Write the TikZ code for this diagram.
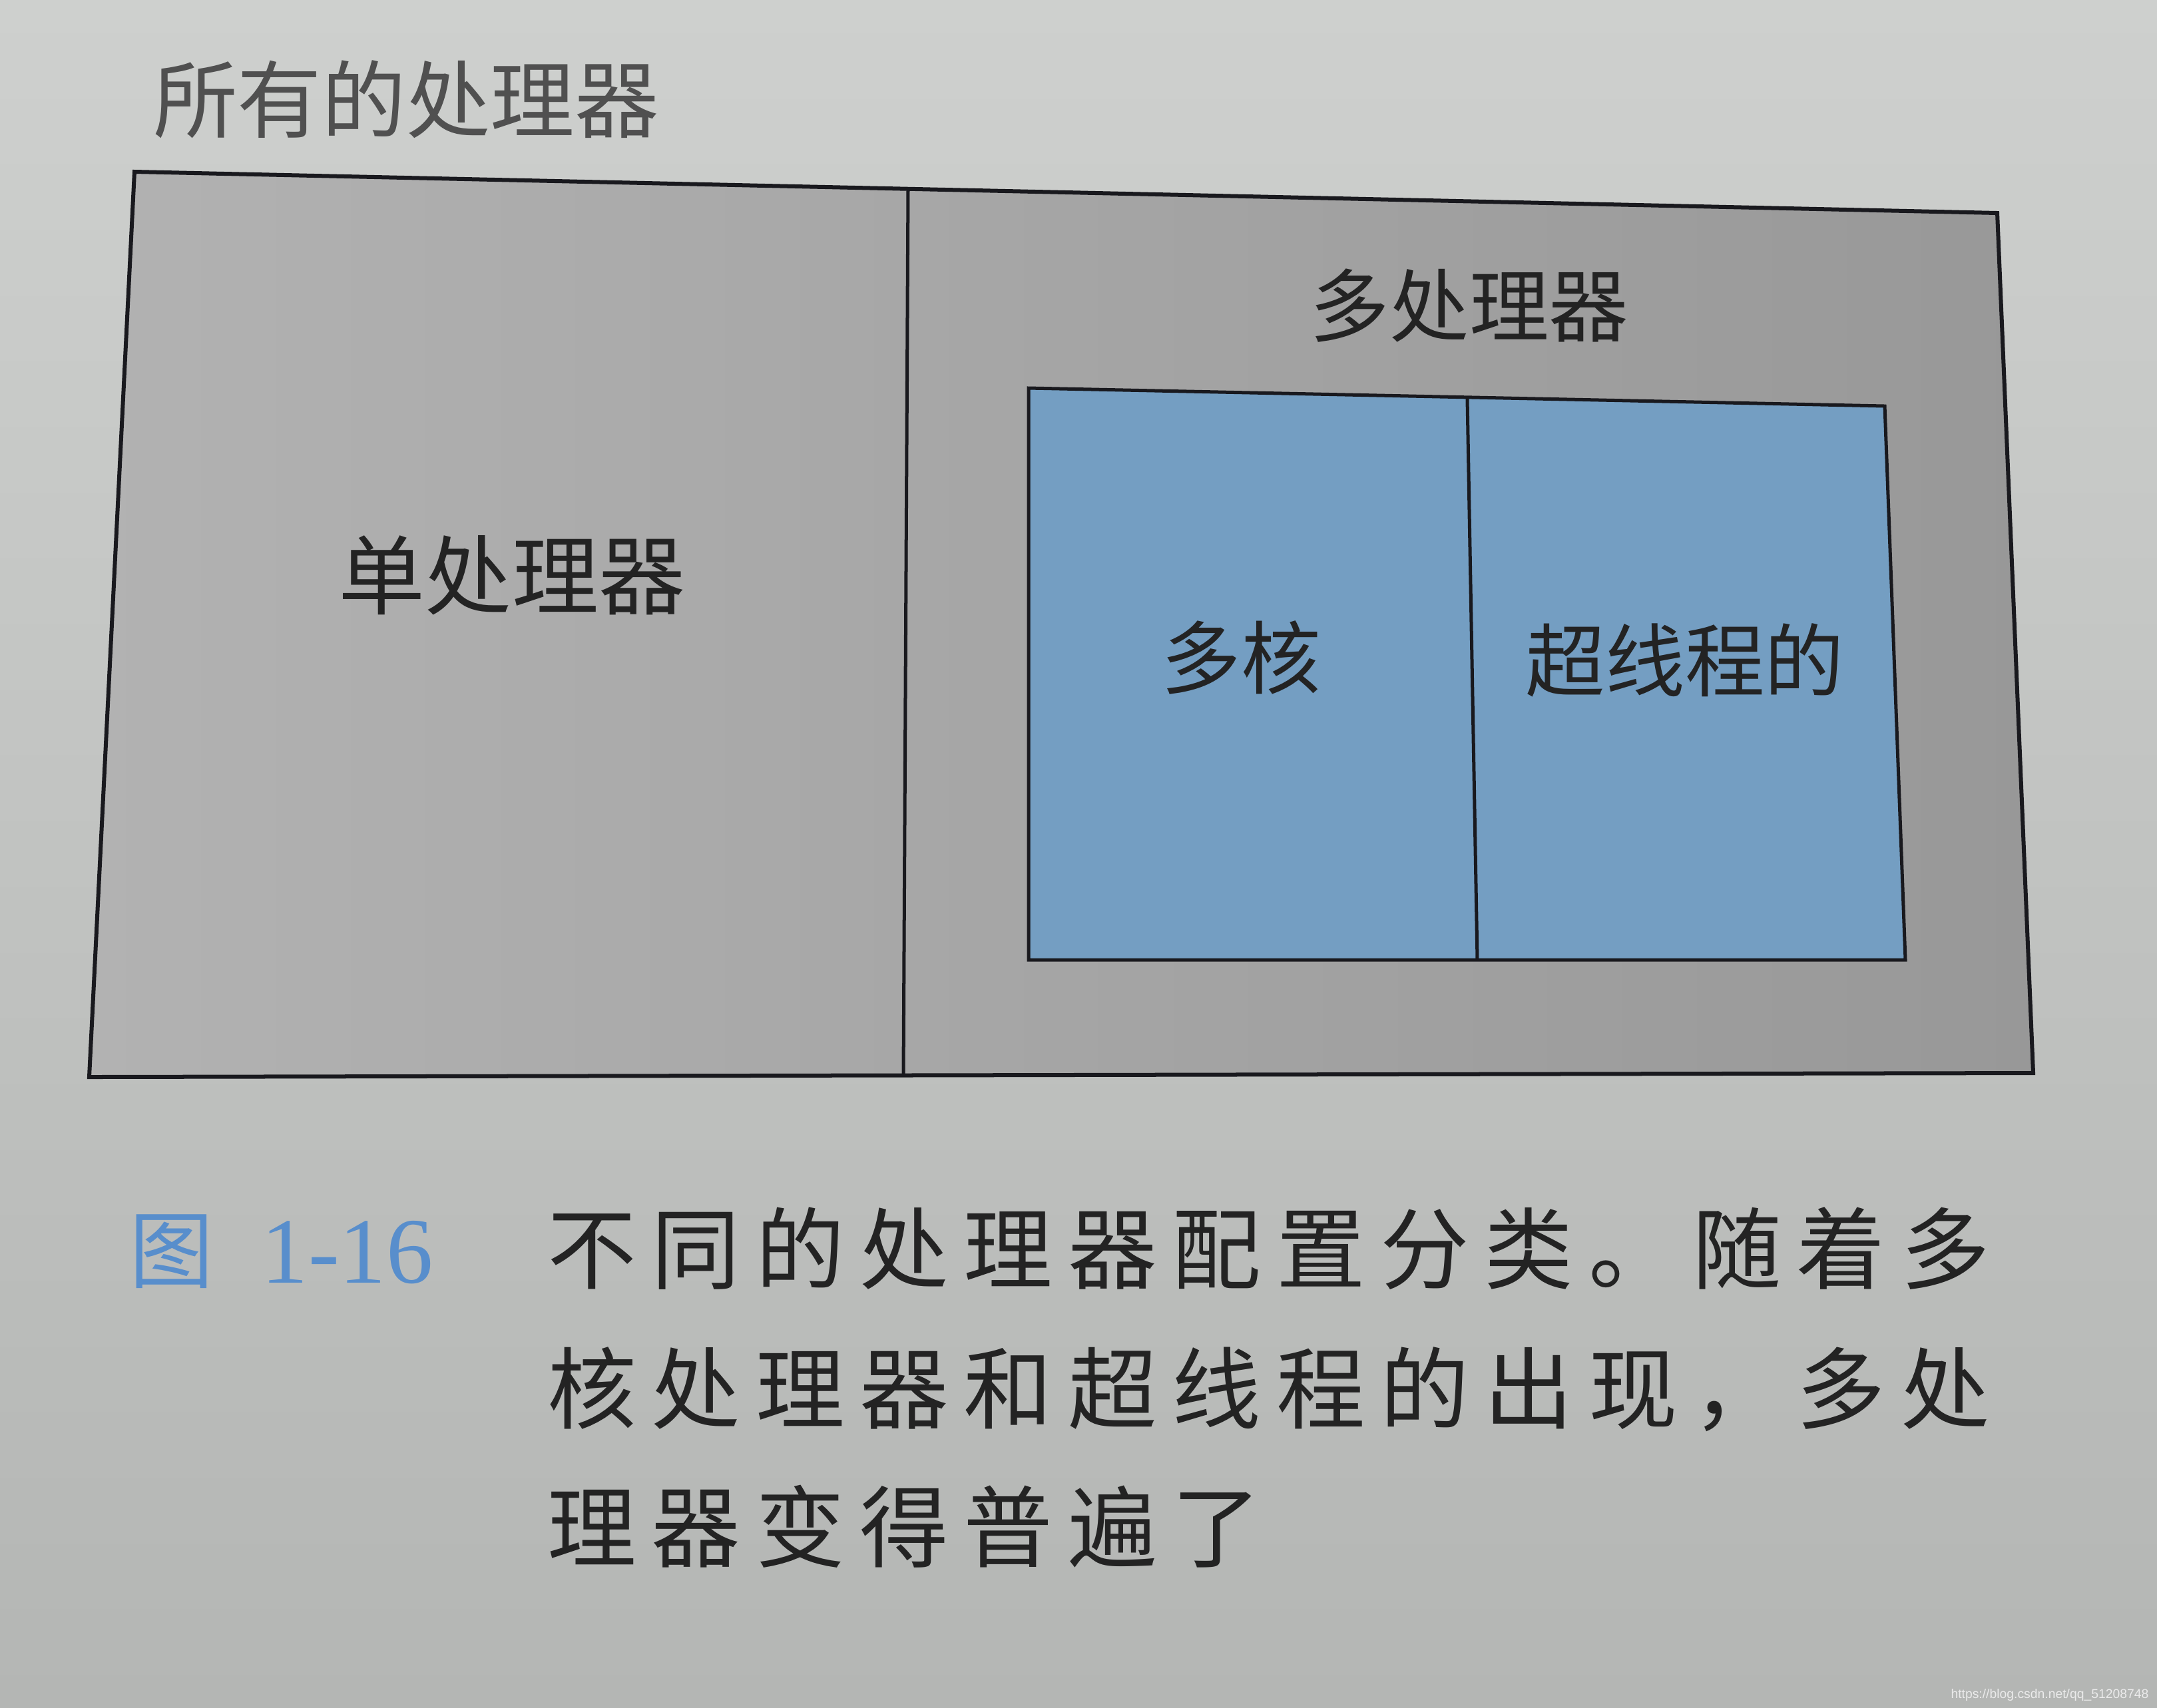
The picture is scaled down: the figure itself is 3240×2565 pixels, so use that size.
\documentclass[tikz,border=0pt]{standalone}
\usepackage{fontspec}
\setmainfont{Noto Sans CJK SC}
\newfontfamily\cjk{Noto Sans CJK SC}
\newfontfamily\capfont[LetterSpace=17]{Noto Sans CJK SC}
\newfontfamily\numfont{Liberation Serif}
\newfontfamily\wmfont{Liberation Sans}
\definecolor{pageTop}{RGB}{206,208,206}
\definecolor{pageBot}{RGB}{180,182,180}
\definecolor{boxL}{RGB}{178,178,178}
\definecolor{boxR}{RGB}{152,152,152}
\definecolor{blueC}{RGB}{116,158,194}
\definecolor{lineC}{RGB}{25,25,30}
\definecolor{txtC}{RGB}{35,35,35}
\definecolor{titleC}{RGB}{80,80,80}
\definecolor{capBlue}{RGB}{88,142,204}
\definecolor{wmC}{RGB}{235,235,235}
\tikzset{
  lbl/.style={text=txtC, inner sep=0pt, font=\cjk\fontsize{34pt}{38pt}\selectfont},
  capline/.style={text=txtC, inner sep=0pt, anchor=west, font=\capfont\fontsize{38pt}{42pt}\selectfont},
  thick line/.style={draw=lineC, line width=0.06cm, line join=miter},
  thin line/.style={draw=lineC, line width=0.05cm}
}
\begin{document}
\begin{tikzpicture}[x=0.01cm,y=-0.01cm]
\useasboundingbox (0,0) rectangle (3240,2565);
\shade[top color=pageTop, bottom color=pageBot] (0,0) rectangle (3240,2565);
% outer box corners
\coordinate (oTL) at (202,258);
\coordinate (oTR) at (3000,320);
\coordinate (oBR) at (3054,1612);
\coordinate (oBL) at (134,1618);
\coordinate (dT) at (1364,283);
\coordinate (dB) at (1357,1616);
% inner blue box corners
\coordinate (bTL) at (1545,583);
\coordinate (bTR) at (2831,610);
\coordinate (bBR) at (2862,1442);
\coordinate (bBL) at (1545,1442);
\coordinate (bdT) at (2204,599);
\coordinate (bdB) at (2219,1442);
\shade[left color=boxL, right color=boxR] (oTL) -- (oTR) -- (oBR) -- (oBL) -- cycle;
\draw[thick line] (oTL) -- (oTR) -- (oBR) -- (oBL) -- cycle;
\draw[thin line] (dT) -- (dB);
\filldraw[fill=blueC, thin line] (bTL) -- (bTR) -- (bBR) -- (bBL) -- cycle;
\draw[thin line] (bdT) -- (bdB);
% labels
\node[lbl, text=titleC, font=\cjk\fontsize{36pt}{40pt}\selectfont] (all) at (610,149) {所有的处理器};
\node[lbl, font=\cjk\fontsize{37pt}{40pt}\selectfont] (uni) at (769,864) {单处理器};
\node[lbl] (multi) at (2207,459) {多处理器};
\node[lbl] (core) at (1864,988) {多核};
\node[lbl] (ht) at (2531,992) {超线程的};
% caption
\node[text=capBlue, inner sep=0pt, font=\cjk\fontsize{36pt}{40pt}\selectfont] (fig) at (258,1880) {图};
\node[text=capBlue, inner sep=0pt, anchor=west, font=\numfont\fontsize{40pt}{44pt}\selectfont] (num) at (392,1882) {1-16};
\node[capline] (c1) at (822,1876) {不同的处理器配置分类。随着多};
\node[capline] (c2) at (822,2087) {核处理器和超线程的出现，多处};
\node[capline] (c3) at (822,2293) {理器变得普遍了};
% watermark
\node[text=wmC, inner sep=0pt, anchor=east, font=\wmfont\fontsize{5.5pt}{6pt}\selectfont] (wm) at (3228,2546) {https://blog.csdn.net/qq\_51208748};
\end{tikzpicture}
\end{document}
